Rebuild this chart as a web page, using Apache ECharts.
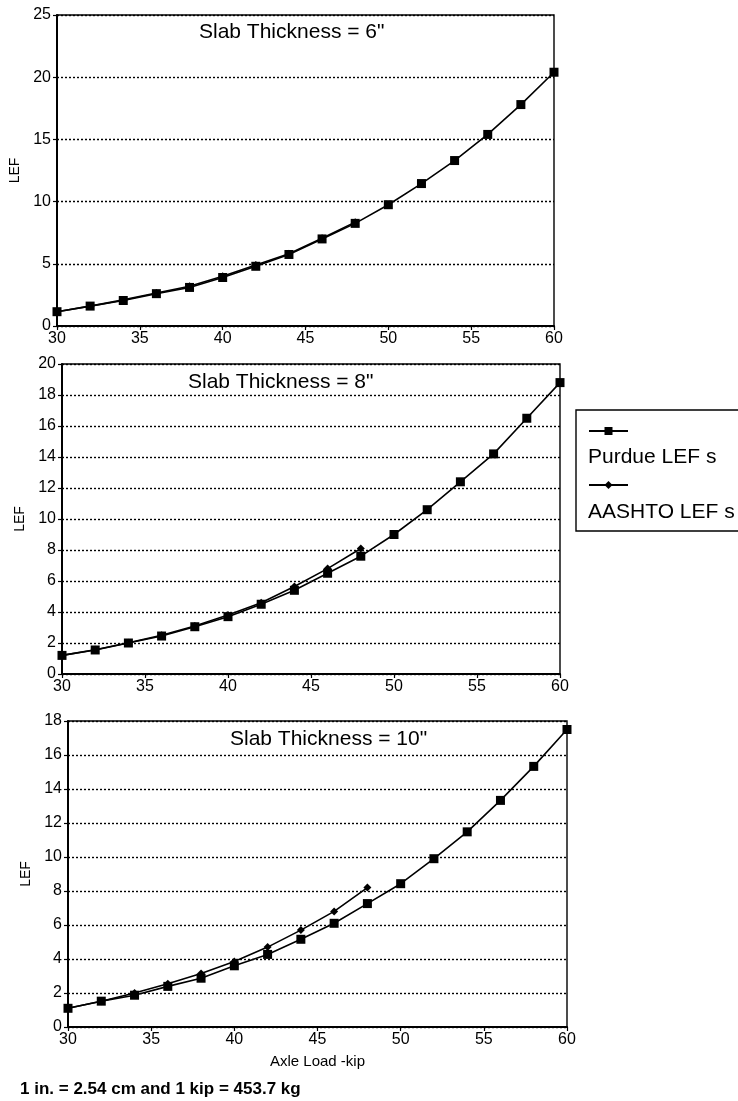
<!DOCTYPE html>
<html>
<head>
<meta charset="utf-8">
<script src="https://cdn.jsdelivr.net/npm/echarts@6/dist/echarts.min.js"></script>
<style>
  html, body { margin: 0; padding: 0; background: #fff; }
  #main { width: 738px; height: 1101px; }
</style>
</head>
<body>
<div id="main"></div>
<script>
// axle loads (kip)
var loads = [30, 32, 34, 36, 38, 40, 42, 44, 46, 48, 50, 52, 54, 56, 58, 60];
var aashtoLoads = [30, 32, 34, 36, 38, 40, 42, 44, 46, 48];

// slab thickness 6"
var purdue6 = [1.15, 1.6, 2.05, 2.6, 3.1, 3.9, 4.8, 5.75, 7.0, 8.25, 9.75, 11.45, 13.3, 15.4, 17.8, 20.4];
var aashto6 = [1.15, 1.6, 2.1, 2.65, 3.2, 4.0, 4.9, 5.8, 7.05, 8.35];
// slab thickness 8"
var purdue8 = [1.2, 1.55, 2.0, 2.45, 3.05, 3.7, 4.5, 5.4, 6.5, 7.6, 9.0, 10.6, 12.4, 14.2, 16.5, 18.8];
var aashto8 = [1.2, 1.56, 2.02, 2.5, 3.1, 3.8, 4.6, 5.65, 6.8, 8.1];
// slab thickness 10"
var purdue10 = [1.1, 1.52, 1.87, 2.39, 2.87, 3.6, 4.27, 5.16, 6.1, 7.26, 8.43, 9.9, 11.48, 13.33, 15.33, 17.5];
var aashto10 = [1.1, 1.52, 2.0, 2.55, 3.15, 3.85, 4.7, 5.7, 6.8, 8.2];

var panelTitles = ['Slab Thickness = 6"', 'Slab Thickness = 8"', 'Slab Thickness = 10"'];
var yMax = [25, 20, 18];
var yStep = [5, 2, 2];

var FONT = "'Liberation Sans', Arial, Helvetica, sans-serif";

function pairs(xs, ys) {
    return ys.map(function (y, i) { return [xs[i], y]; });
}

var chart = echarts.init(document.getElementById("main"));

var grids = [
    { left: 57, top: 15, width: 497, height: 311 },
    { left: 62, top: 364, width: 498, height: 310 },
    { left: 68, top: 721, width: 499, height: 306 }
];
var titlePos = [[199, 22], [188, 372], [230, 729]];
var lefGap = [32, 30, 24];

var xAxes = [], yAxes = [], titles = [];
grids.forEach(function (g, i) {
    g.show = true;
    g.borderColor = "#000";
    g.borderWidth = 1.4;
    g.containLabel = false;

    xAxes.push({
        type: "value",
        gridIndex: i,
        min: 30,
        max: 60,
        interval: 5,
        name: i === 2 ? "Axle Load -kip" : "",
        nameLocation: "middle",
        nameGap: 27,
        nameTextStyle: { color: "#000", fontSize: 15, fontFamily: FONT },
        axisLine: { lineStyle: { color: "#000", width: 2 } },
        axisTick: { show: true, length: 4, lineStyle: { color: "#000", width: 1.2 } },
        axisLabel: { color: "#000", fontSize: 16, margin: 5, fontFamily: FONT },
        splitLine: { show: false }
    });

    yAxes.push({
        type: "value",
        gridIndex: i,
        min: 0,
        max: yMax[i],
        interval: yStep[i],
        name: "LEF",
        nameLocation: "middle",
        nameRotate: 90,
        nameGap: lefGap[i],
        nameTextStyle: { color: "#000", fontSize: 14, fontFamily: FONT },
        axisLine: { show: true, lineStyle: { color: "#000", width: 2 } },
        axisTick: { show: true, length: 4, lineStyle: { color: "#000", width: 1.2 } },
        axisLabel: { color: "#000", fontSize: 16, margin: 6, fontFamily: FONT },
        splitLine: { show: true, lineStyle: { color: "#000", width: 1.4, type: [2, 2] } }
    });

    titles.push({
        text: panelTitles[i],
        left: titlePos[i][0],
        top: titlePos[i][1],
        padding: 0,
        textStyle: { color: "#000", fontSize: 21, fontWeight: "normal", fontFamily: FONT }
    });
});

var purdueSets = [purdue6, purdue8, purdue10];
var aashtoSets = [aashto6, aashto8, aashto10];
var series = [];
for (var i = 0; i < 3; i++) {
    series.push({
        name: "AASHTO LEF s",
        type: "line",
        xAxisIndex: i,
        yAxisIndex: i,
        data: pairs(aashtoLoads, aashtoSets[i]),
        symbol: "diamond",
        symbolSize: 8,
        itemStyle: { color: "#000" },
        lineStyle: { color: "#000", width: 1.6 },
        animation: false
    });
    series.push({
        name: "Purdue LEF s",
        type: "line",
        xAxisIndex: i,
        yAxisIndex: i,
        data: pairs(loads, purdueSets[i]),
        symbol: "rect",
        symbolSize: 9,
        itemStyle: { color: "#000" },
        lineStyle: { color: "#000", width: 1.6 },
        animation: false
    });
}

var options = {
    backgroundColor: "#fff",
    animation: false,
    title: titles,
    grid: grids,
    xAxis: xAxes,
    yAxis: yAxes,
    legend: {
        data: ["Purdue LEF s", "AASHTO LEF s"],
        orient: "vertical",
        left: 588,
        top: 426,
        itemWidth: 39,
        itemHeight: 10,
        itemGap: 45,
        padding: 0,
        formatter: function () { return ""; },
        textStyle: { fontSize: 1 }
    },
    graphic: [
        {
            type: "rect",
            shape: { x: 576, y: 410, width: 200, height: 121 },
            style: { fill: "none", stroke: "#000", lineWidth: 1.4 }
        },
        {
            type: "text",
            x: 588, y: 457,
            style: { text: "Purdue LEF s", fill: "#000", fontSize: 21, fontFamily: FONT, verticalAlign: "middle" }
        },
        {
            type: "text",
            x: 588, y: 512,
            style: { text: "AASHTO LEF s", fill: "#000", fontSize: 21, fontFamily: FONT, verticalAlign: "middle" }
        },
        {
            type: "text",
            x: 20, y: 1089,
            style: { text: "1 in. = 2.54 cm and 1 kip = 453.7 kg", fill: "#000", fontSize: 17, fontWeight: "bold", fontFamily: FONT, verticalAlign: "middle" }
        }
    ],
    series: series
};

chart.setOption(options);

window.onresize = function () {
    chart.resize();
};
</script>
</body>
</html>
